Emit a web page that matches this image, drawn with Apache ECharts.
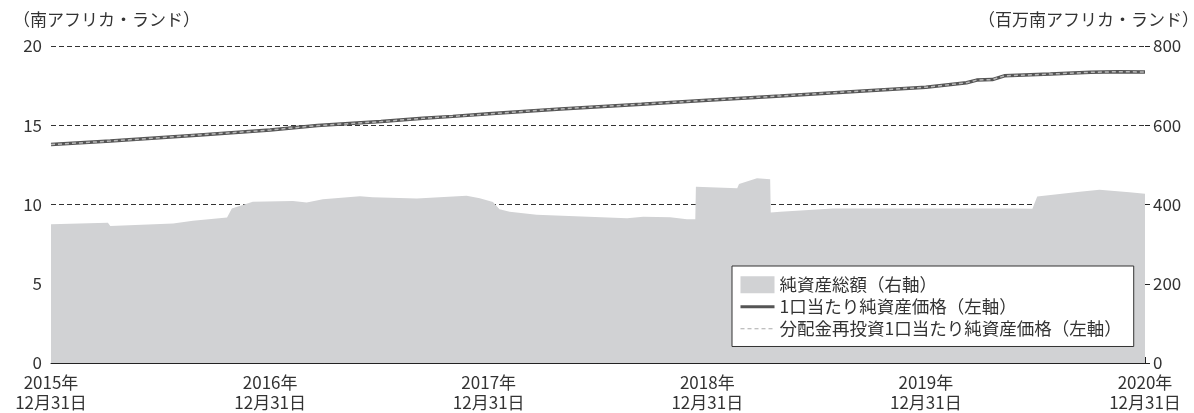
<!DOCTYPE html>
<html>
<head>
<meta charset="utf-8">
<title>純資産総額・1口当たり純資産価格</title>
<script src="https://cdn.jsdelivr.net/npm/echarts@6/dist/echarts.min.js"></script>
<style>
  html, body { margin: 0; padding: 0; background: #fff; }
  #chart { width: 1194px; height: 413px; }
</style>
</head>
<body>
<div id="chart"></div>
<script>
  // 純資産総額（百万南アフリカ・ランド、右軸）
  const navDates = ['2015-12-31', '2016-04-04', '2016-04-08', '2016-07-22', '2016-08-24', '2016-10-20', '2016-10-28', '2016-12-02',
    '2017-02-07', '2017-03-02', '2017-03-29', '2017-05-30', '2017-06-20', '2017-09-02', '2017-11-24', '2017-12-16',
    '2018-01-07', '2018-01-18', '2018-02-04', '2018-03-21', '2018-08-19', '2018-09-15', '2018-10-30', '2018-11-27', '2018-12-11', '2018-12-12',
    '2019-02-19', '2019-02-22', '2019-03-24', '2019-04-15', '2019-04-16', '2019-05-02', '2019-07-29', '2019-12-09',
    '2020-05-24', '2020-06-26', '2020-07-04', '2020-09-13', '2020-10-16', '2020-12-05', '2020-12-31']
  const navValues = [350, 354, 346, 352, 359, 367, 390, 407,
    409, 405, 413, 421, 418, 415, 422, 416,
    406, 388, 382, 374, 365, 369, 368, 363, 363, 445,
    441, 452, 466, 464, 380, 382, 390, 390,
    390, 389, 420, 432, 437, 431, 427]

  // 1口当たり純資産価格（南アフリカ・ランド、左軸）
  const priceDates = ['2015-12-31', '2016-04-08', '2016-09-05', '2016-12-31', '2017-03-20', '2017-07-04', '2017-09-12', '2017-11-01',
    '2017-12-31', '2018-04-30', '2018-09-12', '2018-12-31', '2019-05-02', '2019-08-28', '2019-12-31', '2020-03-08',
    '2020-03-25', '2020-04-20', '2020-05-10', '2020-07-26', '2020-10-01', '2020-11-16', '2020-12-31']
  const priceValues = [13.78, 14.0, 14.39, 14.70, 14.98, 15.23, 15.44, 15.56,
    15.72, 16.03, 16.33, 16.58, 16.85, 17.12, 17.40, 17.68,
    17.85, 17.88, 18.12, 18.23, 18.34, 18.38, 18.36]
  // 分配金再投資1口当たり純資産価格（左軸）
  const reinvestValues = [13.78, 14.0, 14.39, 14.70, 14.98, 15.23, 15.44, 15.56,
    15.72, 16.03, 16.33, 16.58, 16.85, 17.12, 17.40, 17.68,
    17.85, 17.88, 18.12, 18.23, 18.34, 18.38, 18.36]

  const tickYears = [2015, 2016, 2017, 2018, 2019, 2020]
  const seriesNames = ['純資産総額（右軸）', '1口当たり純資産価格（左軸）', '分配金再投資1口当たり純資産価格（左軸）']

  const font = 'Noto Sans CJK JP'
  const textColor = '#333'

  // 'YYYY-MM-DD' -> timestamp
  const ts = s => {
    const p = s.split('-')
    return new Date(+p[0], +p[1] - 1, +p[2]).getTime()
  }
  const toPairs = (dates, values) => dates.map((d, i) => [ts(d), values[i]])
  const tickValues = tickYears.map(y => new Date(y, 11, 31).getTime())

  const chart = echarts.init(document.getElementById('chart'))

  chart.setOption({
    animation: false,
    textStyle: { fontFamily: font },
    grid: { left: 51, right: 49, top: 46, bottom: 50 },
    graphic: [
      {
        type: 'text', x: 13, y: 11,
        style: { text: '（南アフリカ・ランド）', font: '17px "' + font + '"', fill: textColor }
      },
      {
        type: 'text', x: 1199, y: 11,
        style: { text: '（百万南アフリカ・ランド）', font: '17px "' + font + '"', fill: textColor, align: 'right' }
      }
    ],
    legend: {
      orient: 'vertical',
      left: 732,
      top: 266,
      backgroundColor: '#fff',
      borderColor: '#333',
      borderWidth: 1,
      borderRadius: 0,
      padding: [10, 12, 9, 7],
      itemWidth: 34,
      itemHeight: 17,
      itemGap: 4.5,
      itemTextGap: 9,
      textStyle: { fontFamily: font, fontSize: 17.5, color: textColor },
      data: [
        { name: seriesNames[0], icon: 'rect', itemStyle: { color: '#d1d2d4' } },
        { name: seriesNames[1], itemStyle: { opacity: 0 }, lineStyle: { width: 3, color: '#555' } },
        { name: seriesNames[2], itemStyle: { opacity: 0 }, lineStyle: { width: 1.2, color: '#aaa', type: [4, 3] } }
      ]
    },
    xAxis: {
      type: 'value',
      min: tickValues[0],
      max: tickValues[tickValues.length - 1],
      axisLine: { lineStyle: { color: '#222', width: 1 } },
      axisTick: { inside: true, length: 6, customValues: tickValues, lineStyle: { color: '#222' } },
      splitLine: { show: false },
      axisLabel: {
        customValues: tickValues,
        margin: 10,
        fontSize: 17,
        lineHeight: 20,
        color: textColor,
        fontFamily: font,
        formatter: function (v) {
          const d = new Date(v)
          return d.getFullYear() + '年\n' + (d.getMonth() + 1) + '月' + d.getDate() + '日'
        }
      }
    },
    yAxis: [
      {
        type: 'value',
        min: 0,
        max: 20,
        interval: 5,
        position: 'left',
        axisLine: { show: false },
        axisTick: { show: false },
        axisLabel: { margin: 9, fontSize: 17, color: textColor, fontFamily: font },
        splitLine: { lineStyle: { color: '#333', type: [5, 3], width: 1 } }
      },
      {
        type: 'value',
        min: 0,
        max: 800,
        interval: 200,
        position: 'right',
        axisLine: { show: false },
        axisTick: { show: true, length: 5, lineStyle: { color: '#222' } },
        axisLabel: { margin: 8, fontSize: 17, color: textColor, fontFamily: font },
        splitLine: { show: false }
      }
    ],
    series: [
      {
        name: seriesNames[0],
        type: 'line',
        yAxisIndex: 1,
        data: toPairs(navDates, navValues),
        symbol: 'none',
        lineStyle: { width: 0, color: '#d1d2d4' },
        itemStyle: { color: '#d1d2d4' },
        areaStyle: { color: '#d1d2d4', opacity: 1 },
        z: 1
      },
      {
        name: seriesNames[1],
        type: 'line',
        yAxisIndex: 0,
        data: toPairs(priceDates, priceValues),
        symbol: 'none',
        lineStyle: { width: 3.5, color: '#555' },
        itemStyle: { color: '#555' },
        z: 2
      },
      {
        name: seriesNames[2],
        type: 'line',
        yAxisIndex: 0,
        data: toPairs(priceDates, reinvestValues),
        symbol: 'none',
        lineStyle: { width: 1.5, color: '#b8b8b8', type: [4, 3] },
        itemStyle: { color: '#b8b8b8' },
        z: 3
      }
    ]
  })
</script>
</body>
</html>
